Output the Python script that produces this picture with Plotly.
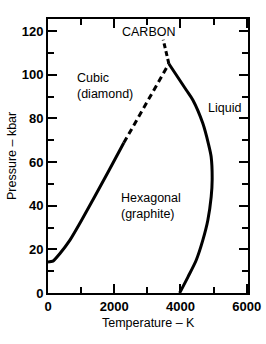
import plotly.graph_objects as go

# Graphite / diamond boundary (solid part)
gd_T = [0, 150, 361, 662, 1014, 1816, 2290]
gd_P = [14.2, 14.6, 18.1, 24.2, 33.3, 55.4, 68.8]
# Graphite / diamond boundary (dashed extrapolation)
gdd_T = [2290, 3650]
gdd_P = [68.8, 105.0]
# Diamond / liquid boundary (dashed)
dl_T = [3650, 3480]
dl_P = [105.0, 116.0]
# Graphite melting curve
melt_T = [3650, 4175, 4374, 4675, 4850, 4927, 4958, 4928, 4827, 4676, 4475, 4225, 3975]
melt_P = [105.0, 93.0, 88.4, 77.7, 68.0, 62.4, 52.0, 44.0, 33.3, 24.2, 15.0, 7.3, 0.0]

labels = [
    ("CARBON", 3050, 119.5),
    ("Cubic<br>(diamond)", 1720, 95.0),
    ("Liquid", 5340, 84.6),
    ("Hexagonal<br>(graphite)", 3110, 40.0),
]
x_title = "Temperature – K"
y_title = "Pressure – kbar"

fig = go.Figure()
fig.add_trace(go.Scatter(x=gd_T, y=gd_P, mode="lines",
                         line=dict(color="black", width=3, shape="spline", smoothing=0.6)))
fig.add_trace(go.Scatter(x=gdd_T, y=gdd_P, mode="lines",
                         line=dict(color="black", width=3, dash="6px,4px")))
fig.add_trace(go.Scatter(x=dl_T, y=dl_P, mode="lines",
                         line=dict(color="black", width=3, dash="5px,3px")))
fig.add_trace(go.Scatter(x=melt_T, y=melt_P, mode="lines",
                         line=dict(color="black", width=3, shape="spline", smoothing=0.8)))

font_txt = dict(family="Liberation Sans", size=12.5, color="black")
for txt, x, y in labels:
    fig.add_annotation(x=x, y=y, text=txt, showarrow=False, font=font_txt, align="left")

fig.add_annotation(xref="paper", yref="paper", x=0.5, y=-0.11, text=x_title,
                   showarrow=False, font=font_txt, xanchor="center", yanchor="middle")
fig.add_annotation(xref="paper", yref="paper", x=-0.18, y=0.5, text=y_title,
                   showarrow=False, font=font_txt, textangle=-90,
                   xanchor="center", yanchor="middle")

axis_common = dict(showgrid=False, zeroline=False, showline=True, linecolor="black",
                   linewidth=2, mirror="ticks", ticks="inside", ticklen=9,
                   tickwidth=1.5, tickcolor="black", automargin=False,
                   tickfont=dict(family="Liberation Sans", size=13, color="black", weight="bold"))

fig.update_xaxes(range=[0, 6040], tickvals=[0, 2000, 4000, 6000],
                 minor=dict(dtick=1000, ticks="inside", ticklen=6, tickcolor="black"),
                 **axis_common)
fig.update_yaxes(range=[0, 125.5], tickvals=[0, 20, 40, 60, 80, 100, 120],
                 minor=dict(dtick=10, ticks="inside", ticklen=6, tickcolor="black"),
                 **axis_common)

fig.update_layout(width=266, height=344, showlegend=False, hovermode=False,
                  margin=dict(l=48, r=18, t=19, b=51),
                  plot_bgcolor="white", paper_bgcolor="white")

fig.write_html("out.html", config={"displayModeBar": False},
               post_script="document.body.style.margin='0';")
